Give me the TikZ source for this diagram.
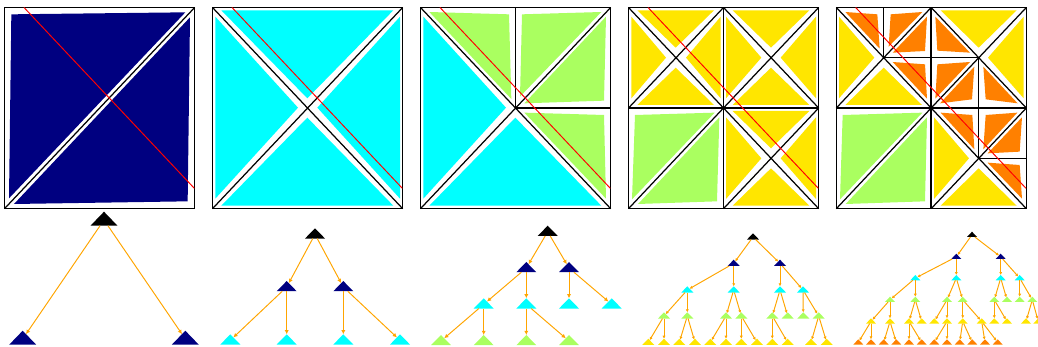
\documentclass[tikz,border=0pt]{standalone}
\usepackage{amsmath}
\usepackage{amssymb}
\usetikzlibrary{arrows.meta,shapes.geometric}

\definecolor{cellnavy}{RGB}{0,0,128}
\definecolor{cellcyan}{RGB}{0,255,255}
\definecolor{cellgreen}{RGB}{170,255,96}
\definecolor{cellyellow}{RGB}{255,230,0}
\definecolor{cellorange}{RGB}{255,128,0}
\definecolor{edgeorange}{RGB}{255,165,0}

\tikzset{
	frameline/.style={black,line width=0.85pt},
	diagline/.style={black,line width=0.7pt},
	cutline/.style={red,line width=0.55pt},
	tnode/.style={isosceles triangle,isosceles triangle stretches,shape border rotate=90,inner sep=0pt,outer sep=0pt,anchor=apex},
	bigt/.style={tnode,minimum width=0.54cm,minimum height=0.28cm},
	midt/.style={tnode,minimum width=0.40cm,minimum height=0.205cm},
	smallt/.style={tnode,minimum width=0.24cm,minimum height=0.125cm},
	tinyt/.style={tnode,minimum width=0.20cm,minimum height=0.106cm},
	tedge/.style={edgeorange,line width=0.55pt,-{Latex[length=2.4pt,width=2.4pt]}},
	tinyedge/.style={edgeorange,line width=0.55pt,-{Latex[length=1.7pt,width=1.8pt]}},
}

\begin{document}
\begin{tikzpicture}[x=0.02cm,y=-0.02cm]
	\useasboundingbox (0,0) rectangle (1038,347);

	% first square
	\begin{scope}[scale=1/3]
		\fill[cellnavy] (34,43)--(556,37)--(27,595)--cycle (570,52)--(563,604)--(42,612)--cycle;
		\draw[diagline] (13.5,626)--(584,22.5);
		\draw[frameline] (13.5,22.5) rectangle (584,626);
		\draw[cutline] (72,22.5)--(583,565);
	\end{scope}

	% second square
	\begin{scope}[shift={(208,0)},scale=1/3]
		\fill[cellcyan] (40,31)--(556,31)--(298,295)--cycle (22,50)--(270,323)--(22,596)--cycle
			(576,50)--(328,323)--(576,596)--cycle (40,617)--(298,353)--(556,617)--cycle;
		\draw[diagline] (13.5,626)--(584,22.5) (13.5,22.5)--(584,626);
		\draw[frameline] (13.5,22.5) rectangle (584,626);
		\draw[cutline] (72,22.5)--(583,565);
	\end{scope}

	% third square
	\begin{scope}[shift={(416,0)},scale=1/3]
		\fill[cellcyan] (22,50)--(270,323)--(22,596)--cycle (40,617)--(298,353)--(556,617)--cycle;
		\fill[cellgreen] (40,36)--(279,43)--(286,297)--cycle (318,43)--(556,36)--(312,290)--cycle
			(570,50)--(564,302)--(325,310)--cycle (325,338)--(564,345)--(570,596)--cycle;
		\draw[diagline] (13.5,626)--(584,22.5) (13.5,22.5)--(584,626);
		\draw[diagline] (298.5,22.5)--(298.5,324);
		\draw[frameline] (298.5,324)--(584,324);
		\draw[frameline] (13.5,22.5) rectangle (584,626);
		\draw[cutline] (72,22.5)--(583,565);
	\end{scope}

	% fourth square
	\begin{scope}[shift={(624,0)},scale=1/3]
		\fill[cellyellow] (40,31)--(270,31)--(155,143)--cycle (22,50)--(126,173)--(22,295)--cycle
			(290,50)--(186,173)--(290,295)--cycle (40,315)--(155,203)--(270,315)--cycle;
		\fill[cellyellow] (326,31)--(556,31)--(441,143)--cycle (306,50)--(412,173)--(306,295)--cycle
			(576,50)--(470,173)--(576,295)--cycle (326,315)--(441,203)--(556,315)--cycle;
		\fill[cellyellow] (326,333)--(556,333)--(441,445)--cycle (306,352)--(412,475)--(306,597)--cycle
			(576,352)--(470,475)--(576,597)--cycle (326,617)--(441,505)--(556,617)--cycle;
		\fill[cellgreen] (33,345)--(272,338)--(24,598)--cycle (286,352)--(279,604)--(42,612)--cycle;
		\draw[diagline] (13.5,22.5)--(298.5,324) (13.5,324)--(298.5,22.5);
		\draw[diagline] (298.5,22.5)--(584,324) (298.5,324)--(584,22.5);
		\draw[diagline] (298.5,324)--(584,626) (298.5,626)--(584,324);
		\draw[diagline] (13.5,626)--(298.5,324);
		\draw[frameline] (298.5,22.5)--(298.5,626) (13.5,324)--(584,324);
		\draw[frameline] (13.5,22.5) rectangle (584,626);
		\draw[cutline] (72,22.5)--(583,565);
	\end{scope}

	% fifth square
	\begin{scope}[shift={(830,0)},scale=1/3]
		\fill[cellyellow] (27,50)--(133,173)--(27,295)--cycle (46,315)--(161,203)--(276,315)--cycle;
		\fill[cellyellow] (332,31)--(560,31)--(446,143)--cycle (581,50)--(474,173)--(581,295)--cycle;
		\fill[cellyellow] (312,352)--(417,475)--(312,597)--cycle (332,617)--(446,505)--(560,617)--cycle;
		\fill[cellorange] (46,36)--(142,43)--(149,146)--cycle (182,43)--(277,36)--(176,140)--cycle
			(291,50)--(285,153)--(188,158)--cycle (188,186)--(285,193)--(291,296)--cycle;
		\fill[cellorange] (316,50)--(420,158)--(322,152)--cycle (322,193)--(420,186)--(316,296)--cycle
			(433,200)--(426,298)--(330,310)--cycle (460,200)--(467,298)--(563,310)--cycle;
		\fill[cellorange] (332,338)--(427,345)--(433,448)--cycle (467,345)--(562,338)--(460,448)--cycle
			(576,352)--(569,455)--(473,460)--cycle (473,488)--(569,495)--(576,596)--cycle;
		\fill[cellgreen] (38,345)--(277,338)--(30,598)--cycle (291,352)--(285,604)--(47,612)--cycle;
		\draw[diagline] (19,22.5)--(303.5,324) (19,324)--(303.5,22.5);
		\draw[diagline] (303.5,22.5)--(589,324) (303.5,324)--(589,22.5);
		\draw[diagline] (303.5,324)--(589,626) (303.5,626)--(589,324);
		\draw[diagline] (19,626)--(303.5,324);
		\draw[diagline] (161,22.5)--(161,173) (161,173)--(446,173) (446,173)--(446,324);
		\draw[diagline] (446,324)--(446,475) (446,475)--(589,475);
		\draw[frameline] (303.5,22.5)--(303.5,626) (19,324)--(589,324);
		\draw[frameline] (19,22.5) rectangle (589,626);
		\draw[cutline] (77,22.5)--(588,565);
	\end{scope}

	% first tree
	\node[bigt,fill=black] (ar) at (104,211.7) {};
	\node[bigt,fill=cellnavy] (aa) at (22.7,330.7) {};
	\node[bigt,fill=cellnavy] (ab) at (185.3,330.7) {};
	\draw[tedge] (ar)--(aa);
	\draw[tedge] (ar)--(ab);

	% second tree
	\node[midt,fill=black] (br) at (315,228.3) {};
	\node[midt,fill=cellnavy] (ba) at (286.7,281) {};
	\node[midt,fill=cellnavy] (bb) at (343.3,281) {};
	\foreach \n/\x in {c/230.3,d/286.7,e/343.3,f/400}
		\node[midt,fill=cellcyan] (b\n) at (\x,334.3) {};
	\foreach \p/\c in {r/a,r/b,a/c,a/d,b/e,b/f}
		\draw[tedge] (b\p)--(b\c);

	% third tree
	\node[midt,fill=black] (cr) at (547.7,225.7) {};
	\node[midt,fill=cellnavy] (ca) at (526.3,262) {};
	\node[midt,fill=cellnavy] (cb) at (569,262) {};
	\foreach \n/\x in {c/483.7,d/526.3,e/569,f/611.7}
		\node[midt,fill=cellcyan] (c\n) at (\x,298.3) {};
	\foreach \n/\x in {g/441,h/483.7,i/526.3,j/569}
		\node[midt,fill=cellgreen] (c\n) at (\x,335) {};
	\foreach \p/\c in {r/a,r/b,a/c,a/d,b/e,b/f,c/g,c/h,d/i,d/j}
		\draw[tedge] (c\p)--(c\c);

	% fourth tree
	\node[smallt,fill=black] (dr) at (753,233.3) {};
	\node[smallt,fill=cellnavy] (da) at (733.7,259.7) {};
	\node[smallt,fill=cellnavy] (db) at (780,259.7) {};
	\foreach \n/\x in {c/687.3,d/733.7,e/780,f/803}
		\node[smallt,fill=cellcyan] (d\n) at (\x,286.3) {};
	\foreach \n/\x in {g/664,h/687.3,i/726,j/741.3,k/772.3,l/787.7,m/803.3,n/818.7}
		\node[smallt,fill=cellgreen] (d\n) at (\x,312.3) {};
	\foreach \n/\x in {o/648.3,p/664,q/679.3,s/695,t/710.3,u/726,v/741.3,w/757,x/772.3,y/787.7,z/811,zz/826.7}
		\node[smallt,fill=cellyellow] (d\n) at (\x,338.7) {};
	\foreach \p/\c in {r/a,r/b,a/c,a/d,b/e,b/f,c/g,c/h,d/i,d/j,e/k,e/l,f/m,f/n,g/o,g/p,h/q,h/s,i/t,i/u,j/v,j/w,k/x,k/y,n/z,n/zz}
		\draw[tinyedge] (d\p)--(d\c);

	% fifth tree
	\node[tinyt,fill=black] (er) at (972,231.7) {};
	\node[tinyt,fill=cellnavy] (ea) at (956.3,253.7) {};
	\node[tinyt,fill=cellnavy] (eb) at (1000.7,253.7) {};
	\foreach \n/\x in {c/915.3,d/956.3,e/1000.7,f/1019.7}
		\node[tinyt,fill=cellcyan] (e\n) at (\x,275) {};
	\foreach \n/\x in {g/890,h/915.3,i/947,j/962.7,k/994.3,l/1007,m/1019.7,n/1032.3}
		\node[tinyt,fill=cellgreen] (e\n) at (\x,296.7) {};
	\foreach \n/\x in {o/871,p/890,q/909,s/921.7,t/934.3,u/947,v/962.7,w/981.7,x/994.3,y/1007,z/1026,zz/1038.3}
		\node[tinyt,fill=cellyellow] (e\n) at (\x,318.3) {};
	\foreach \n/\x in {aa/858.3,ab/871,ac/883.7,ad/896.3,ae/909,af/921.7,ag/934.3,ah/947,ai/959.7,aj/972.3,ak/985,al/997.7}
		\node[tinyt,fill=cellorange] (e\n) at (\x,339.3) {};
	\foreach \p/\c in {r/a,r/b,a/c,a/d,b/e,b/f,c/g,c/h,d/i,d/j,e/k,e/l,f/m,f/n,g/o,g/p,h/q,h/s,i/t,i/u,j/v,j/w,k/x,k/y,n/z,n/zz,o/aa,o/ab,p/ac,p/ad,q/ae,q/af,u/ag,u/ah,v/ai,v/aj,w/ak,w/al}
		\draw[tinyedge] (e\p)--(e\c);
\end{tikzpicture}
\end{document}
